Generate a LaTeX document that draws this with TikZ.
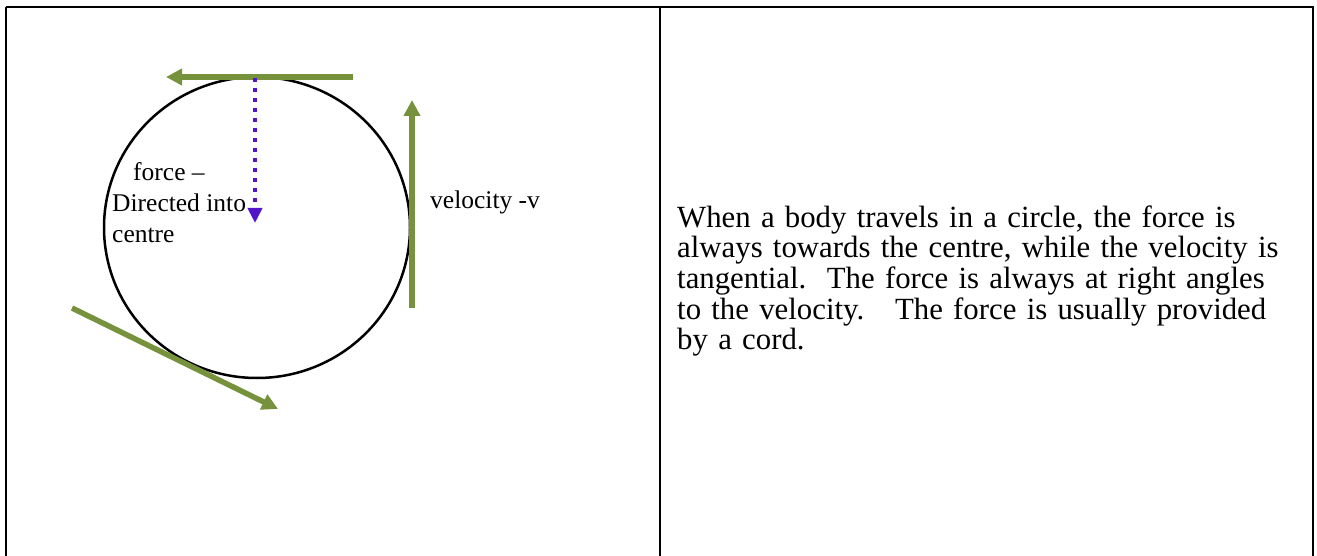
\documentclass[tikz,border=0pt]{standalone}
\usepackage{fontspec}
\setmainfont{Liberation Serif}
\usetikzlibrary{arrows.meta,shapes.geometric}
\definecolor{vgreen}{RGB}{118,146,60}
\definecolor{fpurple}{RGB}{84,20,200}
\tikzset{
  frame/.style={draw=black, line width=2pt},
  vecarrow/.style={draw=vgreen, line width=5.5pt, -{Triangle[length=16pt,width=16pt]}},
  forcearrow/.style={draw=fpurple, line width=4pt, dash pattern=on 4pt off 6pt, -{Triangle[length=15pt,width=14pt]}},
  lbl/.style={font=\fontsize{25.5}{31}\selectfont, inner sep=0pt, align=left},
  body/.style={font=\fontsize{30.8}{30.7}\selectfont, inner sep=0pt, align=left, text width=640pt}
}
\begin{document}
\begin{tikzpicture}[x=1pt,y=-1pt]
\useasboundingbox (0,0) rectangle (1317,556);
\draw[frame] (6,7) -- (1313,7) -- (1313,560);
\draw[frame] (6,560) -- (6,7);
\draw[frame] (660,7) -- (660,560);
% circle
\node[draw=black, line width=2.5pt, ellipse, minimum width=306pt, minimum height=301pt, inner sep=0pt] (circ) at (257,227.5) {};
\coordinate (top) at (255,78);
\coordinate (cen) at (255,223);
\coordinate (tl) at (166,77);
\coordinate (tr) at (353,77);
\coordinate (vb) at (412,308);
\coordinate (vt) at (412,100);
\coordinate (ds) at (72,308);
\coordinate (de) at (278,409);
\draw[vecarrow] (tr) -- (tl);
\draw[vecarrow] (vb) -- (vt);
\draw[vecarrow] (ds) -- (de);
\draw[forcearrow] (top) -- (cen);
\node[lbl, anchor=base west] (f1) at (133,181) {force --};
\node[lbl, anchor=base west] (f2) at (112,212) {Directed into};
\node[lbl, anchor=base west] (f3) at (112,243) {centre};
\node[lbl, anchor=base west] (vel) at (430,208) {velocity -v};
\node[body, anchor=base west] (txt) at (677,227) {When a body travels in a circle, the force is\\always towards the centre, while the velocity is\\tangential.\ \ The force is always at right angles\\to the velocity.\ \ \ The force is usually provided\\by a cord.};
\end{tikzpicture}
\end{document}
